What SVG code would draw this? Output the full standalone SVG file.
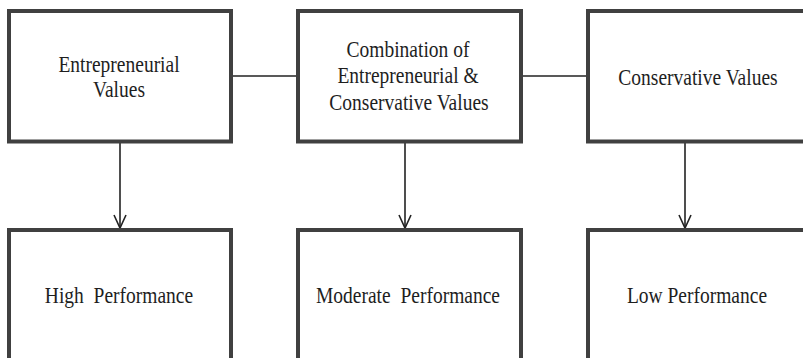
<svg xmlns="http://www.w3.org/2000/svg" width="803" height="358" viewBox="0 0 803 358">
<style>
.box{fill:#fff;stroke:#404040;stroke-width:4}
.lbl{font-family:"Liberation Serif","Times New Roman",serif;font-size:19.5px;fill:#1e1e1e;text-anchor:middle}
.conn{stroke:#222;stroke-width:1.6;fill:none}
.head{stroke:#222;stroke-width:1.6;fill:none}
</style>
<rect width="803" height="358" fill="#fff"/>
<g id="connectors">
<line class="conn" x1="231" y1="76" x2="298" y2="76"/>
<line class="conn" x1="521" y1="76" x2="588" y2="76"/>
<line class="conn" x1="120" y1="143" x2="120" y2="228"/>
<polyline class="head" points="114,215 120,228 126,215"/>
<line class="conn" x1="405" y1="143" x2="405" y2="228"/>
<polyline class="head" points="399,215 405,228 411,215"/>
<line class="conn" x1="685" y1="143" x2="685" y2="228"/>
<polyline class="head" points="679,215 685,228 691,215"/>
</g>
<g id="n1">
<rect class="box" x="9" y="11" width="222" height="130.5"/>
<text class="lbl" transform="translate(119,72) scale(1,1.15)">Entrepreneurial</text>
<text class="lbl" transform="translate(119,97) scale(1,1.15)">Values</text>
</g>
<g id="n2">
<rect class="box" x="298" y="11" width="223" height="130.5"/>
<text class="lbl" transform="translate(408,57) scale(1,1.15)">Combination of</text>
<text class="lbl" transform="translate(408,83) scale(1,1.15)">Entrepreneurial &amp;</text>
<text class="lbl" transform="translate(409,110) scale(1,1.15)">Conservative Values</text>
</g>
<g id="n3">
<rect class="box" x="588" y="11" width="225" height="130.5"/>
<text class="lbl" transform="translate(698,85) scale(1,1.15)">Conservative Values</text>
</g>
<g id="n4">
<rect class="box" x="9" y="230" width="222" height="140"/>
<text class="lbl" transform="translate(119,303) scale(1,1.15)" xml:space="preserve">High  Performance</text>
</g>
<g id="n5">
<rect class="box" x="298" y="230" width="223" height="140"/>
<text class="lbl" transform="translate(408,303) scale(1,1.15)" xml:space="preserve">Moderate  Performance</text>
</g>
<g id="n6">
<rect class="box" x="588" y="230" width="225" height="140"/>
<text class="lbl" transform="translate(697,303) scale(1,1.15)">Low Performance</text>
</g>
</svg>
